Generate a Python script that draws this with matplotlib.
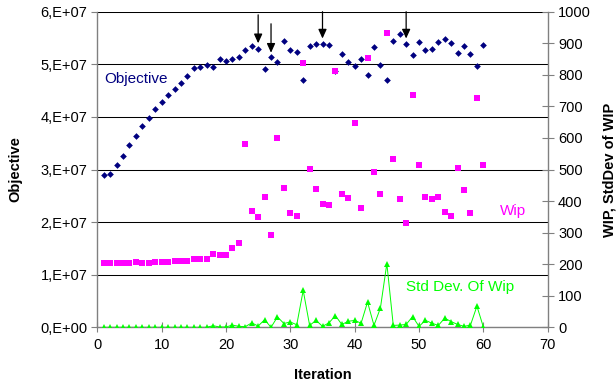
import matplotlib
matplotlib.use("Agg")
import matplotlib.pyplot as plt
from matplotlib.ticker import FuncFormatter, MultipleLocator

plt.rcParams['font.family'] = ['Liberation Sans', 'DejaVu Sans']

iterations = list(range(1, 61))
objective = [2.89, 2.91, 3.08, 3.26, 3.46, 3.64, 3.82, 3.98, 4.15, 4.28,
             4.42, 4.53, 4.65, 4.78, 4.93, 4.95, 4.99, 4.94, 5.10, 5.06,
             5.10, 5.14, 5.28, 5.35, 5.30, 4.92, 5.14, 5.05, 5.44, 5.28,
             5.23, 4.71, 5.34, 5.38, 5.39, 5.36, 4.87, 5.20, 5.05, 4.96,
             5.11, 4.79, 5.33, 4.99, 4.70, 5.45, 5.58, 5.39, 5.17, 5.43,
             5.28, 5.29, 5.43, 5.48, 5.40, 5.22, 5.35, 5.19, 4.96, 5.37]
objective = [v * 1e7 for v in objective]
wip = [205, 205, 205, 205, 205, 207, 205, 205, 208, 208,
       208, 210, 210, 210, 215, 215, 217, 233, 228, 228,
       250, 267, 580, 368, 349, 414, 292, 601, 440, 363,
       353, 838, 501, 437, 392, 386, 812, 422, 409, 646,
       377, 853, 491, 422, 932, 534, 405, 329, 736, 513,
       414, 408, 414, 365, 353, 504, 435, 363, 726, 513]
std_wip = [0, 0, 0, 0, 0, 0, 0, 0, 0, 0,
           0, 0, 0, 0, 0, 0, 0, 5, 1, 1,
           7, 3, 2, 14, 4, 24, 0, 33, 12, 17,
           8, 117, 6, 22, 3, 14, 37, 9, 19, 22,
           13, 80, 6, 61, 202, 6, 7, 9, 34, 3,
           22, 13, 6, 29, 18, 9, 3, 7, 67, 1]
arrow_x = [25, 27, 35, 48]
arrow_start = [5.94e7, 5.77e7, 6.0e7, 6.0e7]
arrow_tip = [5.40e7, 5.22e7, 5.49e7, 5.49e7]

fig = plt.figure(figsize=(6.16, 3.86), dpi=100)
ax = fig.add_axes([97.3 / 616, 1 - 327.3 / 386, (547.7 - 97.3) / 616, (327.3 - 11.7) / 386])
ax2 = ax.twinx()

navy = '#000080'
mag = '#FF00FF'
grn = '#00FF00'
gray = '#808080'

ax.set_xlim(0, 70)
ax.set_ylim(0, 6e7)
ax2.set_ylim(0, 1000)
ax.xaxis.set_major_locator(MultipleLocator(10))
ax.yaxis.set_major_locator(MultipleLocator(1e7))
ax2.yaxis.set_major_locator(MultipleLocator(100))

def objfmt(v, pos):
    n = int(round(v / 1e7))
    return "0,E+00" if n == 0 else f"{n},E+07"
ax.yaxis.set_major_formatter(FuncFormatter(objfmt))

ax.grid(axis='y', color='black', linewidth=0.75)
ax.set_axisbelow(True)

for a in (ax, ax2):
    a.spines['top'].set_visible(False)
    for s in ('left', 'bottom', 'right'):
        a.spines[s].set_color(gray)
        a.spines[s].set_linewidth(1.0)
ax.spines['right'].set_visible(False)
ax2.spines['left'].set_visible(False)
ax2.spines['bottom'].set_visible(False)

ax.tick_params(axis='y', direction='out', length=4, width=0.8, color=gray, labelsize=10.5, pad=3)
ax.tick_params(axis='x', direction='inout', length=7, width=0.8, color=gray, labelsize=10.5, pad=4)
ax2.tick_params(axis='y', direction='inout', length=9, width=0.8, color=gray, labelsize=10.5, pad=3)

ax.plot(iterations, objective, linestyle='none', marker='D', markersize=3.4,
        color=navy, markeredgewidth=0, zorder=3)
for xa, ys, yt in zip(arrow_x, arrow_start, arrow_tip):
    ax.annotate('', xy=(xa, yt), xytext=(xa, ys),
                arrowprops=dict(arrowstyle='-|>,head_length=0.55,head_width=0.25',
                                color='black', lw=0.9, shrinkA=0, shrinkB=0),
                annotation_clip=False, zorder=4)

ax2.plot(iterations, wip, linestyle='none', marker='s', markersize=3.8,
         color=mag, markeredgewidth=0, zorder=3)
ax2.plot(iterations, std_wip, linestyle='-', linewidth=0.7, marker='^', markersize=4.0,
         color=grn, markeredgewidth=0, zorder=3)

ax.text(1.1, 4.73e7, 'Objective', color=navy, fontsize=11, ha='left', va='center')
ax2.text(62.6, 368, 'Wip', color=mag, fontsize=11, ha='left', va='center')
ax2.text(47.9, 127, 'Std Dev. Of Wip', color=grn, fontsize=11, ha='left', va='center')

ax.set_xlabel('Iteration', fontsize=10.5, fontweight='bold', labelpad=12)
ax.set_ylabel('Objective', fontsize=10.5, fontweight='bold', labelpad=13)
ax2.set_ylabel('WIP, StdDev of WIP', fontsize=10.5, fontweight='bold', labelpad=8)

fig.savefig('out.png', dpi=100)
